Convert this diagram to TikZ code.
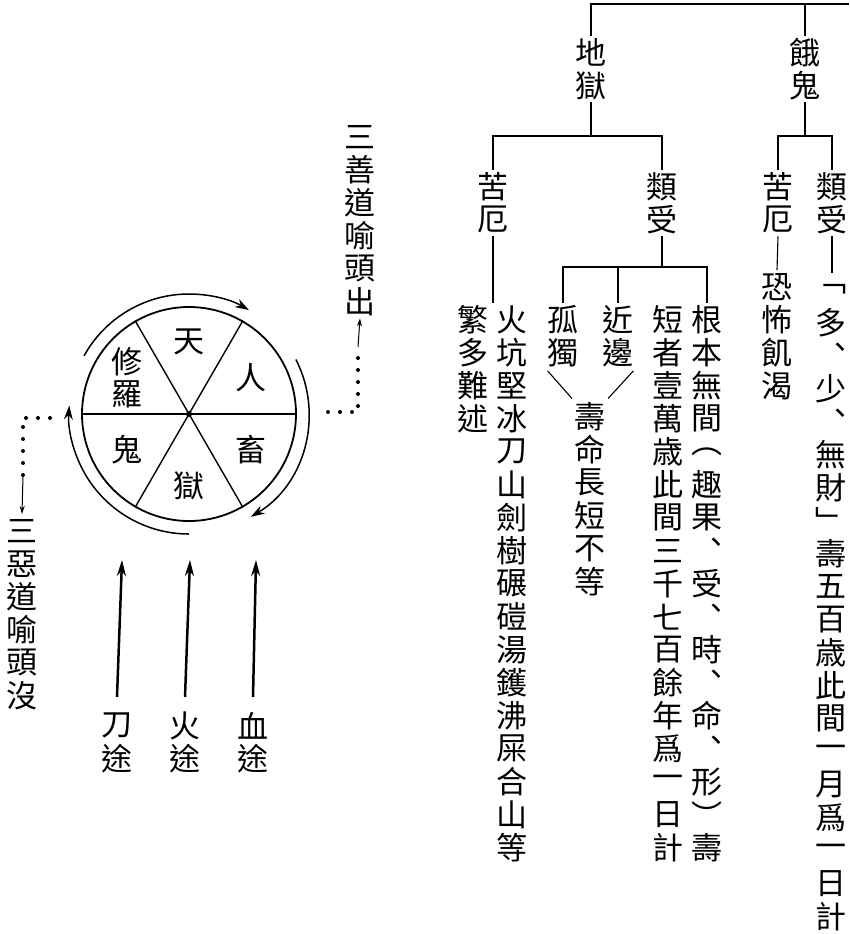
\documentclass[tikz,border=0pt]{standalone}
\usepackage{fontspec}
\setmainfont{Noto Sans CJK TC}
\usetikzlibrary{arrows.meta,calc}

\newlength\cellh
\setlength\cellh{33pt}
\def\vcol#1{\vbox{\offinterlineskip\vcolA#1\vcolend}}
\def\vcolA#1#2\vcolend{\hbox to\cellh{\hss\vbox to\cellh{\vss\hbox{#1}\vss}\hss}\ifx\relax#2\relax\else\vcolA#2\vcolend\fi}

\begin{document}
\begin{tikzpicture}[x=1pt,y=-1pt,
    col/.style={inner sep=0pt,anchor=north,font=\fontsize{31}{33}\selectfont},
    cjk/.style={inner sep=0pt,font=\fontsize{31}{33}\selectfont},
    treeline/.style={line width=1.1pt},
    wheelarrow/.style={line width=1.5pt,-{Stealth[length=14pt,width=9pt]}},
    bigarrow/.style={line width=2.5pt,-{Stealth[length=16pt,width=9pt]}},
    dotline/.style={line width=4pt,line cap=round,dash pattern=on 0pt off 12pt},
    smallarrow/.style={line width=1pt,-{Stealth[length=8pt,width=5pt]}}]
\useasboundingbox (0,0) rectangle (849,934);

% tree
\node[col] (diyu) at (591,36) {\vcol{地獄}};
\node[col] (egui) at (805,36) {\vcol{餓鬼}};
\node[col] (kue1) at (493,170) {\vcol{苦厄}};
\node[col] (lei1) at (662,170) {\vcol{類受}};
\node[col] (kue2) at (778,170) {\vcol{苦厄}};
\node[col] (lei2) at (832,170) {\vcol{類受}};
\node[col] (fan) at (473,303) {\vcol{繁多難述}};
\node[col] (huo) at (512,303) {\vcol{火坑堅冰刀山劍樹碾磑湯鑊沸屎合山等}};
\node[col] (gudu) at (563,303) {\vcol{孤獨}};
\node[col] (jinbian) at (618,303) {\vcol{近邊}};
\node[col] (shouming) at (590,400) {\vcol{壽命長短不等}};
\node[col] (duanzhe) at (668,303) {\vcol{短者壹萬歳此間三千七百餘年爲一日計}};
\node[col] (genben) at (707,303) {\vcol{根本無間︵趣果︑受︑時︑命︑形︶壽}};
\node[col] (kongbu) at (777,270) {\vcol{恐怖飢渴}};
\node[col] (duo) at (831,273) {\vcol{﹁多︑少︑無財﹂壽五百歳此間一月爲一日計}};

\coordinate (topR) at (849,4);
\coordinate (j1) at (591,136);
\coordinate (j2) at (662,267);
\coordinate (j3) at (805,136);
\draw[treeline] (diyu.north) |- (topR);
\draw[treeline] (egui.north) -- (egui.north |- topR);
\draw[treeline] (diyu.south) -- (j1);
\draw[treeline] (kue1.north) |- (j1) -| (lei1.north);
\draw[treeline] (kue1.south) -- (kue1.south |- huo.north);
\draw[treeline] (lei1.south) -- (j2);
\draw[treeline] (gudu.north) |- (j2) -| (genben.north);
\draw[treeline] (jinbian.north) -- (jinbian.north |- j2);
\draw[treeline,shorten <=2pt,shorten >=2pt] (gudu.south west) -- (shouming.north west);
\draw[treeline,shorten <=2pt,shorten >=2pt] (jinbian.south east) -- (shouming.north east);
\draw[treeline] (egui.south) -- (j3);
\draw[treeline] (kue2.north) |- (j3) -| (lei2.north);
\draw[treeline] (kue2.south) -- (kongbu.north);
\draw[treeline] (lei2.south) -- (lei2.south |- duo.north);

% wheel
\node[draw,circle,line width=1.8pt,minimum size=214pt,inner sep=0pt] (wheel) at (189,414) {};
\foreach \a/\b in {0/180,60/240,120/300}
  \draw[line width=1.4pt] (wheel.\a) -- (wheel.\b);
\fill (wheel.center) circle (3pt);
\node[cjk] (tian) at ($(wheel.center)+(90:72pt)$) {天};
\node[cjk] (ren) at ($(wheel.center)+(30:72pt)$) {人};
\node[cjk] (chu) at ($(wheel.center)+(-30:72pt)$) {畜};
\node[cjk] (yu) at ($(wheel.center)+(-90:72pt)$) {獄};
\node[cjk] (gui) at ($(wheel.center)+(-150:72pt)$) {鬼};
\node[cjk] (xiuluo) at ($(wheel.center)+(150:72pt)$) {\vcol{修羅}};

\draw[wheelarrow] ($(wheel.center)+(151:120pt)$) arc[start angle=151,end angle=60,radius=120pt];
\draw[wheelarrow] ($(wheel.center)+(27:120pt)$) arc[start angle=27,end angle=-59,radius=120pt];
\draw[wheelarrow] ($(wheel.center)+(-90:120pt)$) arc[start angle=-90,end angle=-184,radius=120pt];

% up and down
\node[col] (shan) at (360,120) {\vcol{三善道喻頭出}};
\node[col] (e) at (22,514) {\vcol{三惡道喻頭沒}};
\coordinate (rd0) at (328,412);
\coordinate (rd1) at (358,347);
\coordinate (ld0) at (50,418);
\coordinate (ld1) at (23,476);
\draw[dotline] (rd0) -| (rd1);
\draw[smallarrow] (rd1) -- (shan.south);
\draw[dotline] (ld0) -| (ld1);
\draw[smallarrow] (ld1) -- (e.north);

% three paths
\node[col] (daotu) at (117,709) {\vcol{刀途}};
\node[col] (huotu) at (185,709) {\vcol{火途}};
\node[col] (xuetu) at (253,709) {\vcol{血途}};
\coordinate (dtip) at (122,560);
\coordinate (htip) at (190,560);
\coordinate (xtip) at (256,560);
\draw[bigarrow] ([yshift=12pt]daotu.north) -- (dtip);
\draw[bigarrow] ([yshift=12pt]huotu.north) -- (htip);
\draw[bigarrow] ([yshift=12pt]xuetu.north) -- (xtip);
\end{tikzpicture}
\end{document}
